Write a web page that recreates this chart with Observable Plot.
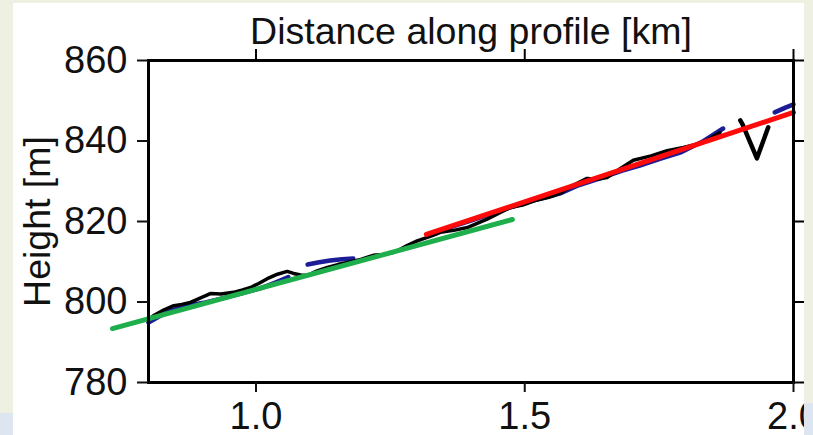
<!DOCTYPE html>
<html>
<head>
<meta charset="utf-8">
<script src="https://cdn.jsdelivr.net/npm/d3@7"></script>
<script src="https://cdn.jsdelivr.net/npm/@observablehq/plot@0.6"></script>
<style>
  html, body { margin: 0; padding: 0; background: #ffffff; width: 813px; height: 435px; overflow: hidden; }
  #chart { position: absolute; left: 0; top: 0; }
  .m { position: absolute; z-index: 5; }
</style>
</head>
<body>
<div id="chart"></div>
<div class="m" style="left:0;top:0;width:813px;height:3px;background:#eef0e2"></div>
<div class="m" style="left:0;top:0;width:13px;height:413px;background:#eef0e2"></div>
<div class="m" style="left:0;top:413px;width:13px;height:22px;background:#dde5f0"></div>
<div class="m" style="left:804px;top:0;width:9px;height:403px;background:#eef0e2"></div>
<div class="m" style="left:804px;top:403px;width:9px;height:32px;background:#dde5f0"></div>
<script>
// Tick values
const xTicks = [1.0, 1.5, 2.0];
const yTicks = [780, 800, 820, 840, 860];

// Measured profile (black)
const blackX = [0.804, 0.809, 0.828, 0.847, 0.862, 0.878, 0.897, 0.915, 0.935, 0.958, 0.975, 0.990, 1.005, 1.021, 1.040, 1.058, 1.070, 1.083, 1.096, 1.115, 1.133, 1.152, 1.170, 1.195, 1.218, 1.237, 1.255, 1.270, 1.281, 1.300, 1.328, 1.343, 1.368, 1.393, 1.430, 1.473, 1.496, 1.519, 1.545, 1.566, 1.590, 1.616, 1.635, 1.653, 1.678, 1.702, 1.735, 1.765, 1.795, 1.826, 1.845, 1.863];
const blackY = [795.9, 796.6, 798.0, 799.1, 799.4, 799.9, 801.0, 802.1, 802.0, 802.4, 803.0, 803.6, 804.6, 805.8, 806.9, 807.6, 807.1, 806.7, 806.6, 807.8, 808.6, 809.3, 809.8, 810.6, 811.6, 811.8, 812.3, 813.2, 814.0, 815.2, 816.5, 817.3, 817.8, 818.5, 820.6, 823.5, 824.1, 825.2, 826.0, 827.0, 829.0, 830.7, 830.5, 830.9, 833.2, 835.2, 836.3, 837.6, 838.4, 839.4, 840.6, 842.1];

// Artifact "V" (black)
const vX = [1.901, 1.905, 1.932, 1.953];
const vY = [845.1, 844.2, 835.7, 843.4];

// Second profile (blue), segments
const blue1X = [0.800, 0.822, 0.845, 0.869, 0.906, 0.943, 0.975, 1.008, 1.030, 1.045, 1.060];
const blue1Y = [794.9, 796.6, 798.0, 799.1, 799.9, 801.1, 802.2, 803.4, 804.5, 805.3, 806.2];
const blue2X = [1.096, 1.115, 1.138, 1.160, 1.181];
const blue2Y = [809.3, 809.8, 810.3, 810.6, 810.8];
const blue3X = [1.343, 1.400, 1.454, 1.510, 1.566, 1.600, 1.640, 1.680, 1.714, 1.750, 1.789, 1.830, 1.869];
const blue3Y = [817.8, 820.2, 822.7, 825.0, 827.0, 829.0, 830.7, 832.6, 833.9, 835.5, 837.1, 839.8, 843.1];
const blue4X = [1.965, 1.985, 2.000];
const blue4Y = [847.1, 848.3, 849.1];

// Fitted lines
const greenX = [0.733, 1.477];
const greenY = [793.4, 820.5];
const redX = [1.317, 2.000];
const redY = [816.8, 847.1];

const pts = (xs, ys) => xs.map((x, i) => ({x, y: ys[i]}));
const blueSegs = [[blue1X, blue1Y], [blue2X, blue2Y], [blue3X, blue3Y], [blue4X, blue4Y]];

const chart = Plot.plot({
  width: 813,
  height: 435,
  marginLeft: 148,
  marginRight: 20,
  marginTop: 60,
  marginBottom: 53,
  style: { fontFamily: "'Liberation Sans', Arial, Helvetica, sans-serif", background: "transparent", overflow: "visible" },
  x: { domain: [0.8, 2.0] },
  y: { domain: [780, 860] },
  marks: [
    ...blueSegs.map(([xs, ys]) => Plot.line(pts(xs, ys), {x: "x", y: "y", stroke: "#1c1c96", strokeWidth: 4.5, strokeLinecap: "round"})),
    Plot.line(pts(blackX, blackY), {x: "x", y: "y", stroke: "#000000", strokeWidth: 3.5, strokeLinejoin: "round", strokeLinecap: "round"}),
    Plot.line(pts(vX, vY), {x: "x", y: "y", stroke: "#000000", strokeWidth: 4.5, strokeLinejoin: "round", strokeLinecap: "round"}),
    Plot.line(pts(greenX, greenY), {x: "x", y: "y", stroke: "#1fae4c", strokeWidth: 5}),
    Plot.line(pts(redX, redY), {x: "x", y: "y", stroke: "#ff0a0a", strokeWidth: 5}),
    Plot.frame({stroke: "#000", strokeWidth: 3}),
    Plot.axisY({anchor: "left", ticks: yTicks, tickSize: 11, tickPadding: 10, fontSize: 38, label: null, strokeWidth: 2, color: "#111"}),
    Plot.axisY({anchor: "right", ticks: yTicks, tickSize: 10, tickFormat: () => "", label: null, strokeWidth: 2}),
    Plot.axisX({anchor: "bottom", ticks: xTicks, tickSize: 10, tickPadding: 10, fontSize: 38, tickFormat: d3.format(".1f"), label: null, strokeWidth: 2, color: "#111"}),
    Plot.axisX({anchor: "top", ticks: xTicks, tickSize: 12, tickFormat: () => "", label: null, strokeWidth: 2}),
    Plot.text(["Distance along profile [km]"], {frameAnchor: "top", dy: -17, lineAnchor: "bottom", textAnchor: "middle", fontSize: 37.5, fill: "#111"}),
    Plot.text(["Height [m]"], {frameAnchor: "left", dx: -111, rotate: -90, lineAnchor: "middle", textAnchor: "middle", fontSize: 37.5, fill: "#111"})
  ]
});
document.getElementById("chart").appendChild(chart);
</script>
</body>
</html>
